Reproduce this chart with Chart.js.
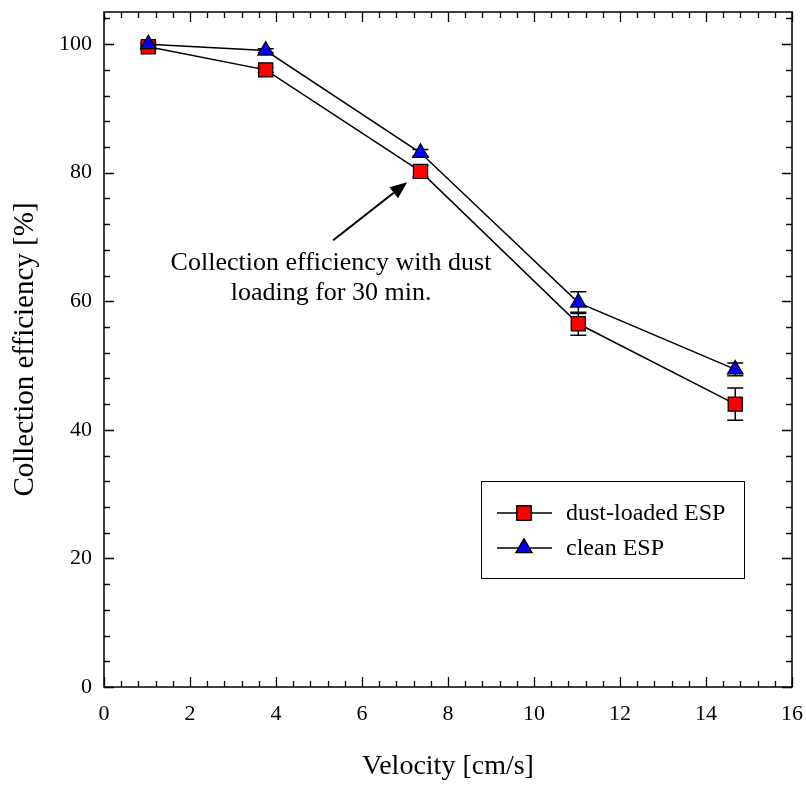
<!DOCTYPE html>
<html>
<head>
<meta charset="utf-8">
<script src="https://cdn.jsdelivr.net/npm/chart.js@4.4.1/dist/chart.umd.min.js"></script>
<style>
  html, body { margin: 0; padding: 0; background: #fff; }
  #wrap { width: 806px; height: 785px; }
</style>
</head>
<body>
<div id="wrap"><canvas id="effChart" width="806" height="785"></canvas></div>
<script>
const velocity = [1.03, 3.76, 7.36, 11.03, 14.68];
const dustLoaded = [99.6, 96.0, 80.2, 56.5, 44.0];
const dustLoadedErr = [0.4, 0.4, 0.9, 1.8, 2.5];
const cleanEsp = [100.0, 99.0, 83.1, 59.8, 49.4];
const cleanEspErr = [0.3, 0.3, 0.5, 1.7, 1.0];
const xTicks = [0, 2, 4, 6, 8, 10, 12, 14, 16];
const yTicks = [0, 20, 40, 60, 80, 100];

const serif = "'Liberation Serif', 'Times New Roman', serif";

function toPoints(xs, ys) {
  return xs.map((x, i) => ({ x, y: ys[i] }));
}

// frame with inward major/minor ticks on all four sides
const framePlugin = {
  id: 'frame',
  afterDraw(chart) {
    const { ctx, chartArea: a, scales } = chart;
    const sx = scales.x, sy = scales.y;
    ctx.save();
    ctx.strokeStyle = '#000';
    ctx.lineWidth = 1.5;
    ctx.strokeRect(a.left, a.top, a.right - a.left, a.bottom - a.top);
    ctx.lineWidth = 1.3;
    ctx.beginPath();
    for (let v = 0; v <= 16.001; v += 0.4) {
      const major = Math.abs(v / 2 - Math.round(v / 2)) < 1e-6;
      const len = major ? 10 : 6;
      const px = Math.round(sx.getPixelForValue(v)) + 0.5;
      ctx.moveTo(px, a.bottom); ctx.lineTo(px, a.bottom - len);
      ctx.moveTo(px, a.top); ctx.lineTo(px, a.top + len);
    }
    for (let v = 0; v <= 105; v += 4) {
      const major = v % 20 === 0;
      const len = major ? 10 : 6;
      const py = Math.round(sy.getPixelForValue(v)) + 0.5;
      ctx.moveTo(a.left, py); ctx.lineTo(a.left + len, py);
      ctx.moveTo(a.right, py); ctx.lineTo(a.right - len, py);
    }
    ctx.stroke();
    ctx.restore();
  }
};

// vertical error bars with caps, drawn under the markers
const errorBarPlugin = {
  id: 'errorBars',
  beforeDatasetsDraw(chart) {
    const { ctx, scales } = chart;
    ctx.save();
    ctx.strokeStyle = '#000';
    ctx.lineWidth = 1.5;
    chart.data.datasets.forEach(ds => {
      ds.data.forEach((p, i) => {
        const e = ds.errors[i];
        const px = scales.x.getPixelForValue(p.x);
        const top = scales.y.getPixelForValue(p.y + e);
        const bot = scales.y.getPixelForValue(p.y - e);
        ctx.beginPath();
        ctx.moveTo(px, top); ctx.lineTo(px, bot);
        ctx.moveTo(px - 8, top); ctx.lineTo(px + 8, top);
        ctx.moveTo(px - 8, bot); ctx.lineTo(px + 8, bot);
        ctx.stroke();
      });
    });
    ctx.restore();
  }
};

// text note with arrow
const notePlugin = {
  id: 'note',
  afterDatasetsDraw(chart) {
    const { ctx, scales } = chart;
    const X = v => scales.x.getPixelForValue(v);
    const Y = v => scales.y.getPixelForValue(v);
    ctx.save();
    ctx.fillStyle = '#000';
    ctx.font = '26px ' + serif;
    ctx.textAlign = 'center';
    ctx.textBaseline = 'alphabetic';
    ctx.fillText('Collection efficiency with dust', X(5.28), Y(64.85));
    ctx.fillText('loading for 30 min.', X(5.28), Y(60.2));

    const x0 = X(5.33), y0 = Y(69.5), x1 = X(7.05), y1 = Y(78.5);
    const ang = Math.atan2(y1 - y0, x1 - x0);
    const hl = 17, hw = 7;
    const bx = x1 - hl * Math.cos(ang), by = y1 - hl * Math.sin(ang);
    ctx.strokeStyle = '#000';
    ctx.lineWidth = 2;
    ctx.beginPath();
    ctx.moveTo(x0, y0); ctx.lineTo(bx, by);
    ctx.stroke();
    ctx.beginPath();
    ctx.moveTo(x1, y1);
    ctx.lineTo(bx + hw * Math.sin(ang), by - hw * Math.cos(ang));
    ctx.lineTo(bx - hw * Math.sin(ang), by + hw * Math.cos(ang));
    ctx.closePath();
    ctx.fill();
    ctx.restore();
  }
};

// boxed legend with line-through-marker samples
const boxLegendPlugin = {
  id: 'boxLegend',
  afterDraw(chart) {
    const { ctx } = chart;
    const left = 481, top = 481, w = 263, h = 97;
    ctx.save();
    ctx.fillStyle = '#fff';
    ctx.fillRect(left, top, w, h);
    ctx.strokeStyle = '#000';
    ctx.lineWidth = 1;
    ctx.strokeRect(left + 0.5, top + 0.5, w, h);
    const items = [chart.data.datasets[1], chart.data.datasets[0]];
    items.forEach((ds, i) => {
      const cy = 513 + i * 35;
      ctx.strokeStyle = '#000';
      ctx.lineWidth = 1.5;
      ctx.beginPath();
      ctx.moveTo(497, cy); ctx.lineTo(552, cy);
      ctx.stroke();
      Chart.helpers.drawPoint(ctx, {
        pointStyle: ds.pointStyle,
        radius: ds.pointRadius,
        borderWidth: ds.pointBorderWidth
      }, 524, cy);
      ctx.fillStyle = ds.pointBackgroundColor;
      ctx.strokeStyle = '#000';
      ctx.lineWidth = ds.pointBorderWidth;
      ctx.fill();
      ctx.stroke();
      ctx.fillStyle = '#000';
      ctx.font = '24px ' + serif;
      ctx.textAlign = 'left';
      ctx.textBaseline = 'middle';
      ctx.fillText(ds.label, 566, cy + 1);
    });
    ctx.restore();
  }
};

new Chart(document.getElementById('effChart'), {
  type: 'line',
  data: {
    datasets: [
      {
        label: 'clean ESP',
        data: toPoints(velocity, cleanEsp),
        errors: cleanEspErr,
        order: 0,
        borderColor: '#000',
        borderWidth: 1.5,
        pointStyle: 'triangle',
        pointRadius: 9,
        pointBorderWidth: 1.2,
        pointBackgroundColor: '#0000ff',
        pointBorderColor: '#000',
        tension: 0
      },
      {
        label: 'dust-loaded ESP',
        data: toPoints(velocity, dustLoaded),
        errors: dustLoadedErr,
        order: 1,
        borderColor: '#000',
        borderWidth: 1.5,
        pointStyle: 'rect',
        pointRadius: 10,
        pointBorderWidth: 1.2,
        pointBackgroundColor: '#ff0000',
        pointBorderColor: '#000',
        tension: 0
      }
    ]
  },
  options: {
    responsive: false,
    animation: false,
    layout: { padding: { top: 12, right: 14, left: 0, bottom: 0 } },
    plugins: {
      legend: { display: false },
      tooltip: { enabled: false }
    },
    scales: {
      x: {
        type: 'linear',
        min: 0,
        max: 16,
        afterFit: s => { s.height = 98; s.paddingLeft = 0; s.paddingRight = 0; },
        afterBuildTicks: s => { s.ticks = xTicks.map(v => ({ value: v })); },
        grid: { display: false, drawTicks: false },
        border: { display: false },
        ticks: { font: { size: 22, family: serif }, color: '#000', padding: 14, maxRotation: 0 },
        title: {
          display: true,
          text: 'Velocity [cm/s]',
          font: { size: 28, family: serif },
          color: '#000',
          padding: { top: 0, bottom: 2 }
        }
      },
      y: {
        type: 'linear',
        min: 0,
        max: 105,
        afterFit: s => { s.width = 104; s.paddingTop = 0; s.paddingBottom = 0; },
        afterBuildTicks: s => { s.ticks = yTicks.map(v => ({ value: v })); },
        grid: { display: false, drawTicks: false },
        border: { display: false },
        ticks: { font: { size: 22, family: serif }, color: '#000', padding: 12 },
        title: {
          display: true,
          text: 'Collection efficiency [%]',
          font: { size: 29, family: serif },
          color: '#000',
          padding: { top: 8, bottom: 0 }
        }
      }
    }
  },
  plugins: [errorBarPlugin, notePlugin, framePlugin, boxLegendPlugin]
});
</script>
</body>
</html>
